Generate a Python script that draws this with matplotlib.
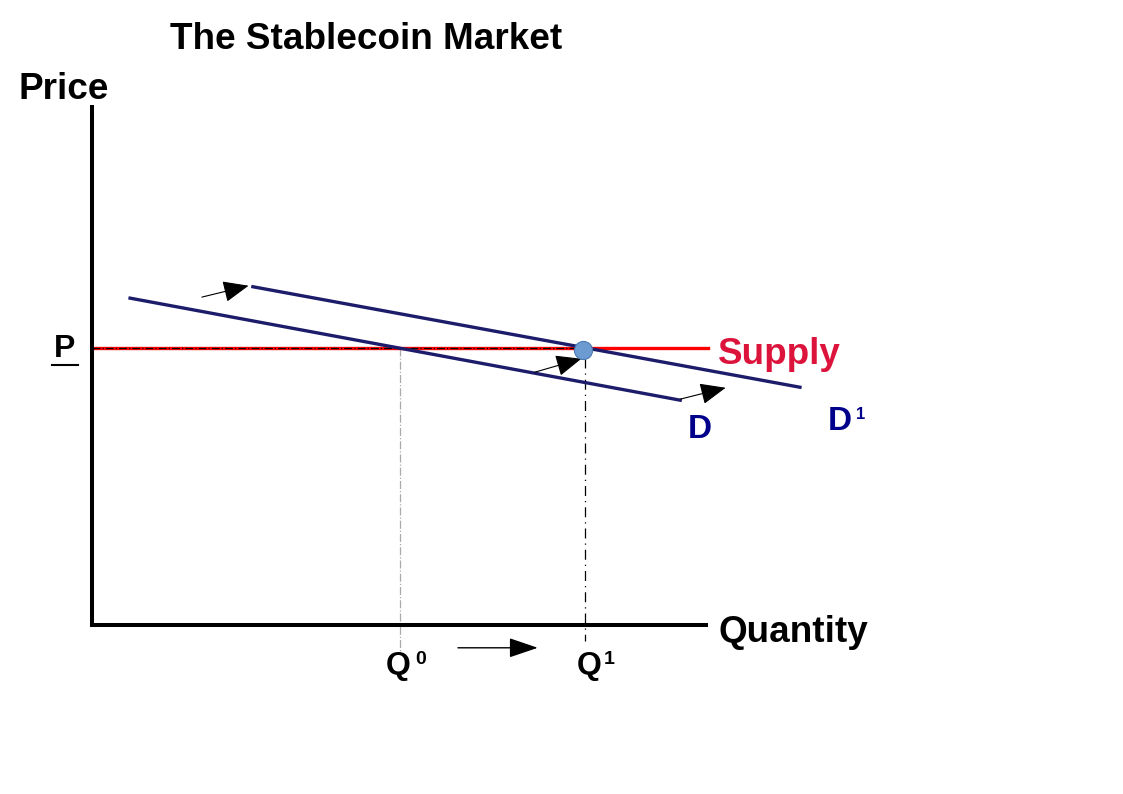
import numpy as np
import matplotlib.pyplot as plt

# chart units: quantity 0..100 along x axis, price 0..100 along y axis
p_level = 53.5
supply_x = [0, 100.4]
d_x = [6.2, 95.8]
d_y = [63.1, 43.4]
d1_x = [26.2, 115.3]
d1_y = [65.3, 45.9]
q0 = 50.2
q1 = 80.3
shift_arrows = [((17.9, 63.3), (25.5, 65.5)),
                ((72.1, 48.8), (79.7, 51.4)),
                ((95.8, 43.6), (103.2, 45.8))]
q_arrow = ((59.6, -4.4), (72.6, -4.4))

plt.rcParams['font.family'] = ['Liberation Sans', 'DejaVu Sans']
plt.rcParams['font.weight'] = 'bold'

fig = plt.figure(figsize=(11.23, 7.94), dpi=100)
ax = fig.add_axes([92/1123, 169/794, 614/1123, 518/794])
ax.set_xlim(0, 100)
ax.set_ylim(0, 100)
for s in ['top', 'right']:
    ax.spines[s].set_visible(False)
for s in ['left', 'bottom']:
    ax.spines[s].set_linewidth(2.9)
    ax.spines[s].set_color('black')
ax.set_xticks([])
ax.set_yticks([])
ax.patch.set_alpha(0)

# guide lines
ax.plot([0, q1], [p_level, p_level], color='black', lw=0.9, ls='-.', zorder=2, clip_on=False)
ax.plot([q0, q0], [p_level, -5.5], color='#aaaaaa', lw=0.9, ls='-.', zorder=1, clip_on=False)
ax.plot([q1, q1], [p_level - 2, -3], color='black', lw=0.9, ls=(0, (8, 4, 1, 4)), zorder=1, clip_on=False)

# supply and demand
ax.plot(supply_x, [p_level, p_level], color='red', lw=2.4, zorder=1, clip_on=False)
ax.plot(d_x, d_y, color='#1c1c6b', lw=2.4, zorder=3, clip_on=False)
ax.plot(d1_x, d1_y, color='#1c1c6b', lw=2.4, zorder=3, clip_on=False)
ax.scatter([q1 - 0.3], [p_level - 0.4], s=170, color='#6c9bd2', edgecolor='#4a78b0', lw=0.8, zorder=5, clip_on=False)

for start, end in shift_arrows:
    ax.annotate('', xy=end, xytext=start, annotation_clip=False,
                arrowprops=dict(arrowstyle='-|>,head_length=1.0,head_width=0.42',
                                mutation_scale=16, lw=0.8, color='black',
                                shrinkA=0, shrinkB=0))
ax.annotate('', xy=q_arrow[1], xytext=q_arrow[0], annotation_clip=False,
            arrowprops=dict(arrowstyle='-|>,head_length=1.0,head_width=0.34',
                            mutation_scale=18, lw=1.0, color='black',
                            shrinkA=0, shrinkB=0))

# labels
ax.text(12.7, 113.1, 'The Stablecoin Market', fontsize=26.6, fontweight='bold', ha='left', va='center')
ax.text(-12.05, 103.3, 'Price', fontsize=26.6, fontweight='bold', ha='left', va='center')
ax.text(102, -1.4, 'Quantity', fontsize=26.6, fontweight='bold', ha='left', va='center')
ax.text(-4.4, p_level - 0.3, 'P', fontsize=23, fontweight='bold', ha='center', va='center')
ax.plot([-6.5, -2.3], [50.2, 50.2], color='black', lw=1.5, clip_on=False)
ax.text(102, 52.2, 'Supply', fontsize=26.6, fontweight='bold', color='#dc143c', ha='left', va='center')
ax.text(99, 37.7, 'D', fontsize=24, fontweight='bold', color='#00008b', ha='center', va='center')
ax.text(119.9, 39.2, 'D', fontsize=24, fontweight='bold', color='#00008b', ha='left', va='center')
ax.text(124.4, 40.6, '1', fontsize=12, fontweight='bold', color='#00008b', ha='left', va='center')
ax.text(47.8, -7.9, 'Q', fontsize=23, fontweight='bold', ha='left', va='center')
ax.text(52.7, -6.7, '0', fontsize=14, fontweight='bold', ha='left', va='center')
ax.text(79.0, -7.9, 'Q', fontsize=23, fontweight='bold', ha='left', va='center')
ax.text(83.3, -6.7, '1', fontsize=14, fontweight='bold', ha='left', va='center')

fig.savefig('out.png', dpi=100)
